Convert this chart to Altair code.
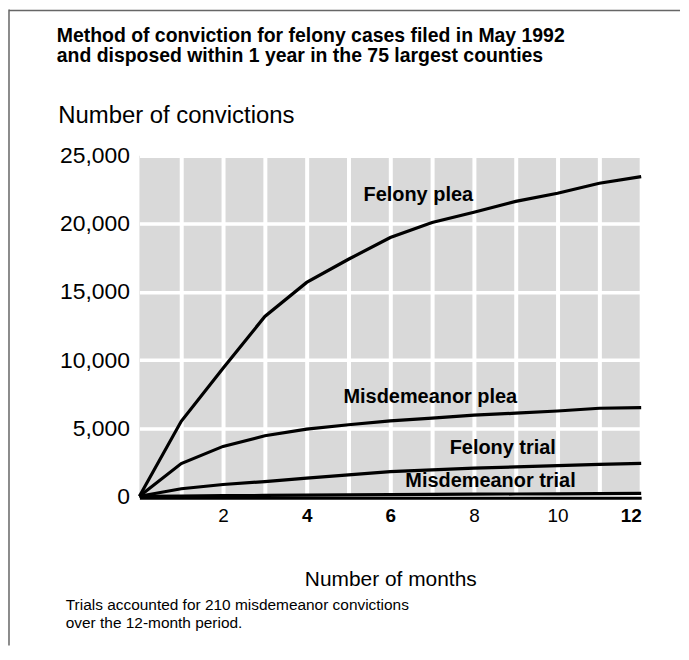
import altair as alt
import pandas as pd

# ---- data ----
months = list(range(0, 13))
felony_plea = [0, 5500, 9400, 13200, 15700, 17400, 19000, 20100, 20850, 21650, 22250, 22980, 23470]
misd_plea = [0, 2400, 3660, 4440, 4930, 5250, 5530, 5730, 5950, 6100, 6260, 6460, 6510]
felony_trial = [0, 550, 860, 1080, 1330, 1570, 1810, 1930, 2060, 2150, 2250, 2340, 2420]
misd_trial = [0, 20, 40, 60, 80, 100, 120, 135, 150, 165, 180, 195, 210]

series_names = ["Felony plea", "Misdemeanor plea", "Felony trial", "Misdemeanor trial"]
series_values = [felony_plea, misd_plea, felony_trial, misd_trial]

label_x = [5.36, 4.88, 7.42, 6.36]
label_y = [21700, 6820, 3100, 670]

title_lines = ["Method of conviction for felony cases filed in May 1992",
               "and disposed within 1 year in the 75 largest counties"]
note_lines = ["Trials accounted for 210 misdemeanor convictions",
              "over the 12-month period."]

x_ticks = list(range(1, 13))
y_ticks = [0, 5000, 10000, 15000, 20000, 25000]

rows = []
for name, vals in zip(series_names, series_values):
    for m, v in zip(months, vals):
        rows.append({"series": name, "month": m, "value": v})
df = pd.DataFrame(rows)
labels_df = pd.DataFrame({"series": series_names, "lx": label_x, "ly": label_y})
one = pd.DataFrame({"k": [0]})

FONT = "Liberation Sans"
W, H = 504, 342

xscale = alt.Scale(domain=[0, 12], nice=False, zero=False)
yscale = alt.Scale(domain=[0, 25000], nice=False)

lines = alt.Chart(df).mark_line(color="black", strokeWidth=3.2, strokeJoin="miter").encode(
    x=alt.X("month:Q", scale=xscale,
            axis=alt.Axis(values=x_ticks, grid=True, gridColor="white", gridWidth=4, gridOpacity=1,
                          ticks=False, domain=True, domainColor="black", domainWidth=3, offset=1.5,
                          labelExpr="datum.value % 2 == 0 ? datum.label : ''",
                          labelFont=FONT, labelFontSize=19, labelColor="black", labelPadding=9,
                          labelFontWeight={"condition": {"test": "datum.value == 4 || datum.value == 6 || datum.value == 12", "value": "bold"}, "value": "normal"},
                          title="Number of months", titleFont=FONT, titleFontSize=21,
                          titleFontWeight="normal", titleColor="black",
                          titleX=W / 2, titleY=88, titleBaseline="alphabetic", titleAlign="center")),
    y=alt.Y("value:Q", scale=yscale,
            axis=alt.Axis(values=y_ticks, format=",.0f", grid=True, gridColor="white", gridWidth=3.5,
                          gridOpacity=1, ticks=False, domain=False,
                          labelFont=FONT, labelFontSize=23, labelColor="black", labelPadding=10,
                          title="Number of convictions", titleFont=FONT, titleFontSize=24,
                          titleFontWeight="normal", titleColor="black", titleAngle=0,
                          titleAlign="left", titleBaseline="alphabetic", titleX=-82, titleY=-33)),
    detail="series:N",
)

series_labels = alt.Chart(labels_df).mark_text(
    font=FONT, fontSize=20, fontWeight="bold", color="black", align="left", baseline="alphabetic"
).encode(
    x=alt.X("lx:Q", scale=xscale),
    y=alt.Y("ly:Q", scale=yscale),
    text="series:N",
)

title = alt.Chart(one).mark_text(
    text=title_lines, font=FONT, fontSize=19.5, fontWeight="bold", color="black",
    align="left", baseline="alphabetic", lineHeight=20
).encode(x=alt.value(-83), y=alt.value(-114))

note = alt.Chart(one).mark_text(
    text=note_lines, font=FONT, fontSize=15.5, color="black",
    align="left", baseline="alphabetic", lineHeight=18.5
).encode(x=alt.value(-74), y=alt.value(456))

border_left = alt.Chart(one).mark_rule(color="#666666", strokeWidth=1.5).encode(
    x=alt.value(-131), y=alt.value(-147), y2=alt.value(H + 150))
border_top = alt.Chart(one).mark_rule(color="#666666", strokeWidth=1.5).encode(
    x=alt.value(-131), x2=alt.value(W + 39), y=alt.value(-146))

chart = alt.layer(lines, series_labels, title, note, border_left, border_top).properties(
    width=W, height=H,
    autosize=alt.AutoSizeParams(type="none"),
    padding={"left": 132, "top": 147, "right": 40, "bottom": 150},
).configure_view(fill="#d9d9d9", strokeWidth=0)

chart.save("out.html", embed_options={"renderer": "svg", "actions": False})
